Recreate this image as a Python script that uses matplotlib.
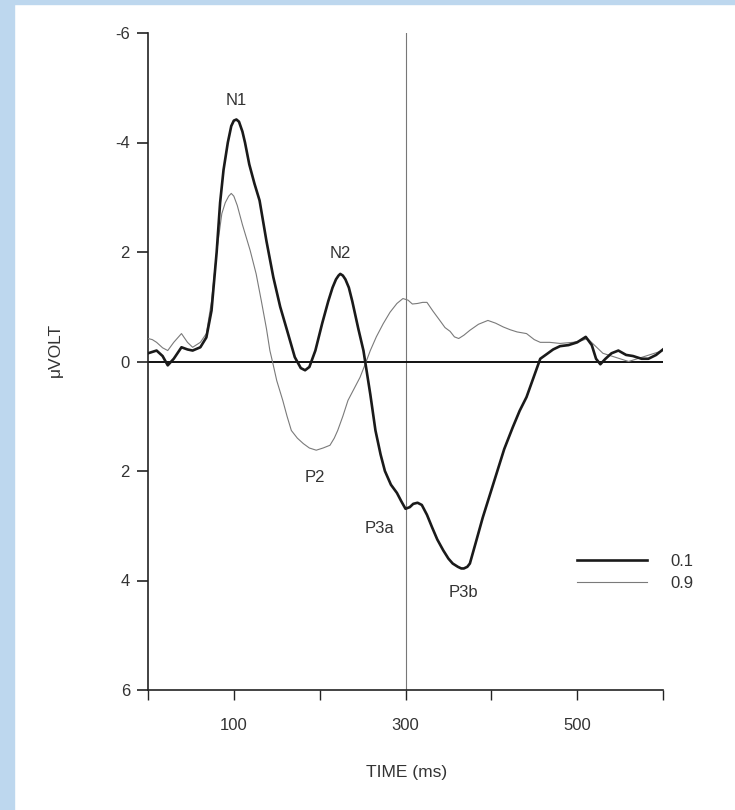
import matplotlib
matplotlib.use('Agg')
import matplotlib.pyplot as plt
from matplotlib.patches import Rectangle

plt.rcParams['font.family'] = ['Liberation Sans', 'DejaVu Sans']

# ERP curves (time in ms, amplitude in microvolt, negative up)
time_01 = [0, 10, 17, 23, 30, 39, 46, 52, 61, 68, 74, 80, 84, 88, 93, 97, 100, 103, 106,
           110, 113, 118, 124, 130, 138, 146, 154, 162, 171, 178, 183, 188, 195, 203,
           210, 215, 219, 222, 224, 227, 230, 234, 238, 245, 251, 253, 259, 265, 271,
           276, 283, 290, 295, 300, 305, 309, 314, 319, 325, 331, 337, 344, 350, 355,
           361, 365, 368, 372, 375, 382, 390, 398, 406, 415, 425, 433, 441, 449, 457,
           465, 472, 480, 490, 500, 510, 517, 522, 527, 533, 540, 548, 557, 565, 575,
           583, 592, 600]
volt_01 = [-0.15, -0.2, -0.1, 0.07, -0.05, -0.26, -0.22, -0.2, -0.26, -0.44, -0.93, -2.0,
           -2.9, -3.5, -4.0, -4.3, -4.4, -4.42, -4.38, -4.2, -4.0, -3.6, -3.25, -2.94,
           -2.2, -1.54, -1.0, -0.57, -0.08, 0.12, 0.16, 0.1, -0.2, -0.7, -1.1, -1.35,
           -1.5, -1.57, -1.6, -1.57, -1.5, -1.35, -1.1, -0.6, -0.2, 0.0, 0.6, 1.26, 1.7,
           2.0, 2.25, 2.4, 2.55, 2.69, 2.66, 2.6, 2.58, 2.62, 2.8, 3.03, 3.25, 3.45, 3.6,
           3.69, 3.75, 3.78, 3.78, 3.75, 3.69, 3.3, 2.85, 2.45, 2.05, 1.6, 1.2, 0.9,
           0.65, 0.3, -0.05, -0.14, -0.22, -0.28, -0.3, -0.35, -0.45, -0.3, -0.05, 0.05,
           -0.05, -0.15, -0.2, -0.12, -0.1, -0.05, -0.05, -0.12, -0.22]

time_09 = [0, 5, 10, 17, 23, 30, 39, 46, 52, 61, 68, 74, 80, 86, 90, 94, 97, 100, 104,
           110, 119, 126, 132, 138, 142, 145, 150, 157, 162, 167, 174, 181, 188, 196,
           204, 212, 217, 221, 227, 233, 240, 247, 253, 259, 266, 274, 282, 290, 297,
           303, 308, 314, 320, 325, 332, 340, 346, 352, 357, 362, 368, 375, 385, 396,
           405, 414, 422, 430, 441, 450, 457, 468, 480, 495, 505, 512, 520, 530, 540,
           550, 560, 570, 580, 590, 600]
volt_09 = [-0.42, -0.4, -0.35, -0.25, -0.2, -0.35, -0.51, -0.35, -0.26, -0.35, -0.51,
           -1.1, -2.0, -2.7, -2.9, -3.02, -3.07, -3.02, -2.85, -2.5, -2.03, -1.6, -1.11,
           -0.6, -0.2, 0.0, 0.35, 0.71, 1.0, 1.26, 1.4, 1.5, 1.58, 1.62, 1.58, 1.53,
           1.4, 1.26, 1.0, 0.71, 0.5, 0.29, 0.05, -0.2, -0.45, -0.69, -0.9, -1.06,
           -1.15, -1.12, -1.05, -1.06, -1.08, -1.08, -0.92, -0.75, -0.62, -0.55, -0.45,
           -0.42, -0.48, -0.57, -0.68, -0.75, -0.7, -0.63, -0.58, -0.54, -0.51, -0.4,
           -0.35, -0.35, -0.33, -0.35, -0.38, -0.42, -0.3, -0.15, -0.1, -0.05, 0.0,
           -0.05, -0.1, -0.15, -0.2]

# component labels
peak_names = ['N1', 'N2', 'P2', 'P3a', 'P3b']
peak_x = [103, 224, 195, 270, 367]
peak_y = [-4.77, -1.97, 2.12, 3.05, 4.22]

ytick_vals = [-6, -4, -2, 0, 2, 4, 6]
ytick_text = ['-6', '-4', '2', '0', '2', '4', '6']
xtick_vals = [0, 100, 200, 300, 400, 500, 600]
xtick_text = ['', '100', '', '300', '', '500', '']

txt_col = '#333333'

fig = plt.figure(figsize=(7.35, 8.1), dpi=100)
fig.patch.set_facecolor('white')
# light blue frame strips (left and top)
fig.add_artist(Rectangle((0, 0), 14 / 735, 1, transform=fig.transFigure,
                         color='#bdd7ee', zorder=-5))
fig.add_artist(Rectangle((0, 1 - 4 / 810), 1, 4 / 810, transform=fig.transFigure,
                         color='#bdd7ee', zorder=-5))

ax = fig.add_axes([148 / 735, 1 - 690 / 810, 515 / 735, 657 / 810])

ax.axhline(0, color='#111111', lw=1.4, zorder=2)
ax.axvline(300, color='#777777', lw=0.8, zorder=1)
ax.plot(time_01, volt_01, color='#1a1a1a', lw=1.9, label='0.1', zorder=4,
        solid_joinstyle='round')
ax.plot(time_09, volt_09, color='#7a7a7a', lw=0.8, label='0.9', zorder=3)

for name, px, py in zip(peak_names, peak_x, peak_y):
    ax.text(px, py, name, ha='center', va='center', fontsize=12, color=txt_col)

ax.set_xlim(0, 600)
ax.set_ylim(6, -6)
ax.set_xticks(xtick_vals)
ax.set_xticklabels(xtick_text)
ax.set_yticks(ytick_vals)
ax.set_yticklabels(ytick_text)

for s in ['top', 'right']:
    ax.spines[s].set_visible(False)
for s in ['left', 'bottom']:
    ax.spines[s].set_linewidth(1.2)
    ax.spines[s].set_color('#222222')

ax.tick_params(axis='y', direction='out', length=8, width=1.2, pad=5,
               labelsize=12, labelcolor=txt_col, color='#222222')
ax.tick_params(axis='x', direction='out', length=7, width=1.0, pad=13,
               labelsize=12, labelcolor=txt_col, color='#222222')

fig.text(407 / 735, 1 - 772 / 810, 'TIME (ms)', ha='center', va='center',
         fontsize=12.5, color=txt_col)
fig.text(55 / 735, 1 - 350 / 810, 'μVOLT', ha='center', va='center',
         rotation=90, fontsize=12.5, color=txt_col)

ax.legend(loc='center left', bbox_to_anchor=(0.833, 0.179), frameon=False,
          borderpad=0, borderaxespad=0, handlelength=4.2, handletextpad=1.4,
          labelspacing=0.4, fontsize=12, labelcolor=txt_col)

fig.savefig('out.png', dpi=100)
